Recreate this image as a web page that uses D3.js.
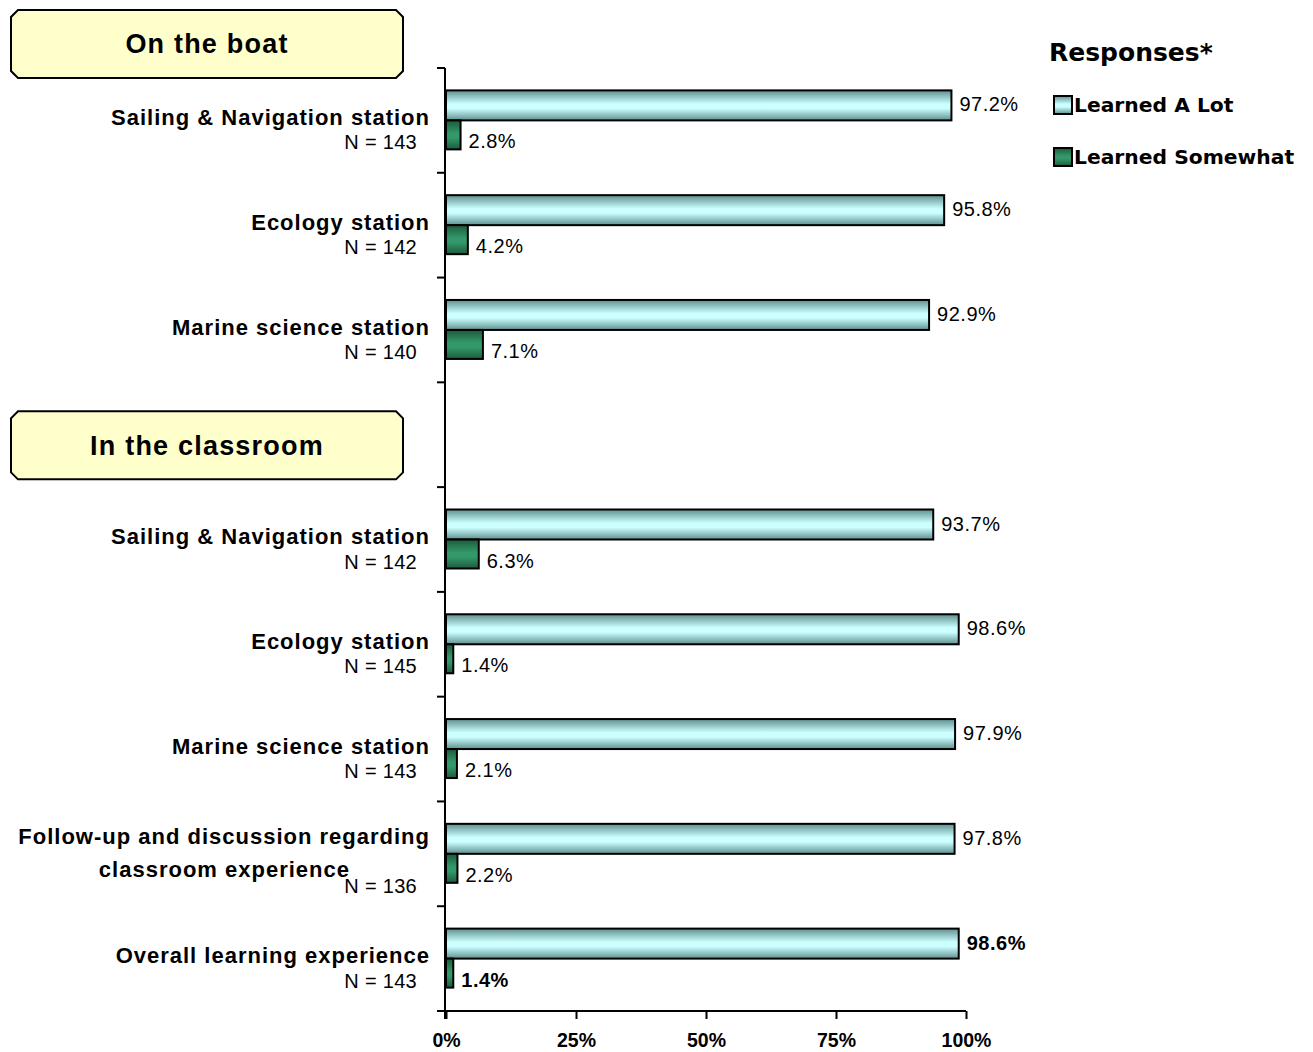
<!DOCTYPE html>
<html><head><meta charset="utf-8">
<script src="https://cdn.jsdelivr.net/npm/d3@7"></script>
<style>body{margin:0;background:#fff}svg{display:block}</style>
</head><body><svg id="c" width="1313" height="1052"></svg>
<script>
const categories = ["boat-sail","boat-eco","boat-marine","gap","class-sail","class-eco","class-marine","class-follow","class-overall"];
const labelLines = [["Sailing & Navigation station"],["Ecology station"],["Marine science station"],[],["Sailing & Navigation station"],["Ecology station"],["Marine science station"],["Follow-up and discussion regarding","classroom experience"],["Overall learning experience"]];
const nLabels = ["N = 143","N = 142","N = 140","","N = 142","N = 145","N = 143","N = 136","N = 143"];
const learnedALot = [97.2,95.8,92.9,null,93.7,98.6,97.9,97.8,98.6];
const learnedSomewhat = [2.8,4.2,7.1,null,6.3,1.4,2.1,2.2,1.4];
const boldValue = [false,false,false,false,false,false,false,false,true];
const seriesNames = ["Learned A Lot","Learned Somewhat"];
const xTicks = [0,25,50,75,100];
const sections = [{title:"On the boat", at:0},{title:"In the classroom", at:3}];

const svg = d3.select("#c");
const defs = svg.append("defs");
function grad(id, edge, mid){
  const g = defs.append("linearGradient").attr("id",id).attr("x1",0).attr("y1",0).attr("x2",0).attr("y2",1);
  [[0,edge],[0.45,mid],[0.6,mid],[1,edge]].forEach(s=>g.append("stop").attr("offset",s[0]).attr("stop-color",s[1]));
}
grad("gBlue","#5f8f8f","#ccffff");
grad("gGreen","#1c5a3c","#33996a");

const FONT = "Liberation Sans, Arial, sans-serif";
const x = d3.scaleLinear().domain([0,100]).range([446,966]);
const y = d3.scaleBand().domain(categories).range([68,1011]);
const bw = 30;

function catText(xp, yp, t){
  svg.append("text").attr("x",xp).attr("y",yp).attr("dy","0.35em").attr("text-anchor","end")
    .attr("font-family",FONT).attr("font-weight","bold").attr("font-size",22).attr("letter-spacing",1.0).text(t);
}

// bars
categories.forEach((c,i)=>{
  if(learnedALot[i]==null) return;
  const cy = y(c)+y.bandwidth()/2;
  svg.append("rect").attr("x",x(0)).attr("y",cy-bw).attr("width",x(learnedALot[i])-x(0)).attr("height",bw)
    .attr("fill","url(#gBlue)").attr("stroke","#000").attr("stroke-width",2);
  svg.append("rect").attr("x",x(0)).attr("y",cy).attr("width",x(learnedSomewhat[i])-x(0)).attr("height",bw-1)
    .attr("fill","url(#gGreen)").attr("stroke","#000").attr("stroke-width",2);
  const fw = boldValue[i]?"bold":"normal";
  svg.append("text").attr("x",x(learnedALot[i])+8).attr("y",cy-16).attr("dy","0.35em")
    .attr("font-family",FONT).attr("font-size",20).attr("letter-spacing",0.5).attr("font-weight",fw).text(learnedALot[i].toFixed(1)+"%");
  svg.append("text").attr("x",x(learnedSomewhat[i])+8).attr("y",cy+21).attr("dy","0.35em")
    .attr("font-family",FONT).attr("font-size",20).attr("letter-spacing",0.5).attr("font-weight",fw).text(learnedSomewhat[i].toFixed(1)+"%");
  // category labels
  const lines = labelLines[i];
  if(lines.length===1){
    catText(430, cy-3, lines[0]);
  } else {
    catText(430, cy-18, lines[0]);
    catText(350, cy+15, lines[1]);
  }
  const nOff = lines.length===1 ? 22 : 32;
  svg.append("text").attr("x",417).attr("y",cy+nOff).attr("dy","0.35em").attr("text-anchor","end")
    .attr("font-family",FONT).attr("font-size",20).attr("letter-spacing",0.3).text(nLabels[i]);
});

// y axis with band ticks
const yAxisG = svg.append("g");
yAxisG.append("line").attr("x1",x(0)-1).attr("x2",x(0)-1).attr("y1",68).attr("y2",1019).attr("stroke","#000").attr("stroke-width",2);
categories.forEach(c=>{
  const yy = y(c);
  yAxisG.append("line").attr("x1",x(0)-9).attr("x2",x(0)-1).attr("y1",yy).attr("y2",yy).attr("stroke","#000").attr("stroke-width",2);
});

// x axis
const xAxis = d3.axisBottom(x).tickValues(xTicks).tickFormat(d=>d+"%").tickSize(8).tickSizeOuter(0);
const xg = svg.append("g").attr("transform","translate(0,1011)").call(xAxis);
xg.select(".domain").attr("stroke","#000").attr("stroke-width",2).attr("d","M437,0H966");
xg.selectAll(".tick line").attr("stroke","#000").attr("stroke-width",2);
xg.selectAll(".tick text").attr("font-family",FONT).attr("font-weight","bold").attr("font-size",19.5).attr("fill","#000").attr("dy","1.3em");

// section boxes
sections.forEach(s=>{
  const top = s.at===0 ? 10 : y(categories[s.at]) + 29;
  const x0=11,x1=403,y0=top,y1=top+68,c=7;
  svg.append("path").attr("d",`M${x0+c},${y0}H${x1-c}L${x1},${y0+c}V${y1-c}L${x1-c},${y1}H${x0+c}L${x0},${y1-c}V${y0+c}Z`)
    .attr("fill","#ffffcc").attr("stroke","#000").attr("stroke-width",2);
  svg.append("text").attr("x",(x0+x1)/2).attr("y",(y0+y1)/2).attr("dy","0.35em").attr("text-anchor","middle")
    .attr("font-family",FONT).attr("font-weight","bold").attr("font-size",27).attr("letter-spacing",1.2).text(s.title);
});

// legend
svg.append("text").attr("x",1049).attr("y",52).attr("dy","0.35em").attr("font-family","DejaVu Sans").attr("font-weight","bold").attr("font-size",25).text("Responses*");
seriesNames.forEach((n,i)=>{
  const ly = 105 + i*52;
  svg.append("rect").attr("x",1054).attr("y",ly-9).attr("width",18).attr("height",18)
    .attr("fill", i===0?"url(#gBlue)":"url(#gGreen)").attr("stroke","#000").attr("stroke-width",2);
  svg.append("text").attr("x",1074).attr("y",ly).attr("dy","0.35em").attr("font-family","DejaVu Sans").attr("font-weight","bold").attr("font-size",20.3).text(n);
});
</script></body></html>
